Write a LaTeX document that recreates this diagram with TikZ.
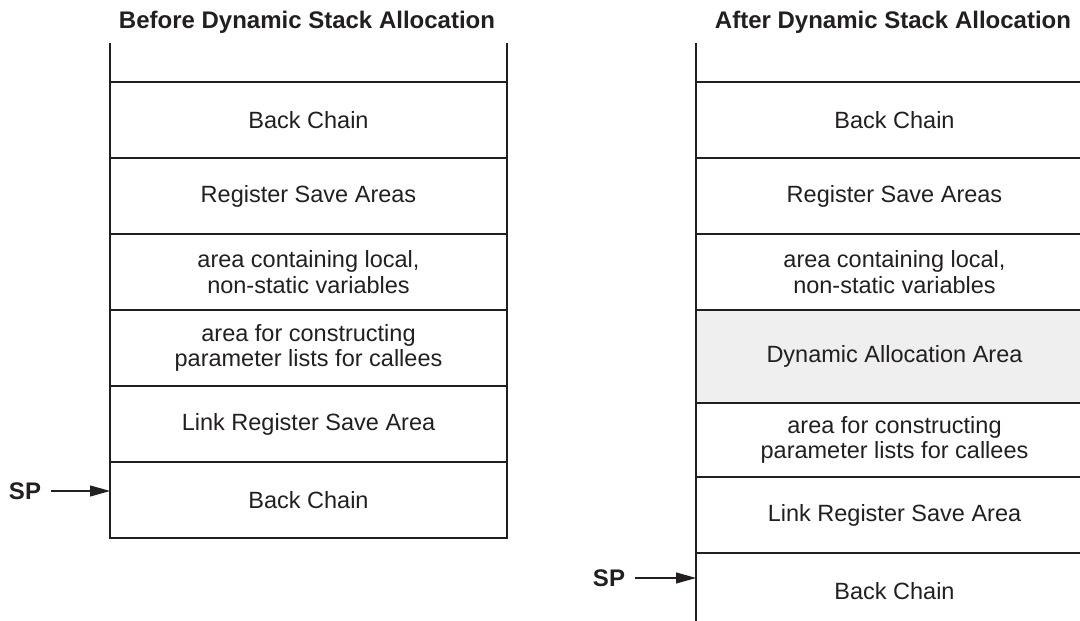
\documentclass[tikz,border=0pt]{standalone}
\usepackage{fontspec}
\setmainfont{Liberation Sans}
\usetikzlibrary{positioning, arrows.meta}

\definecolor{inkgray}{HTML}{231F20}
\definecolor{dynfill}{HTML}{EFEFEF}

\begin{document}
\begin{tikzpicture} [x=1pt, y=1pt,
            node distance = 0pt,
            every node/.style = {text=inkgray,
                font=\fontsize{23.5}{25.5}\selectfont},
            slot/.style = {draw=inkgray, line width=1.1pt,
                minimum width=397, minimum height=76,
                inner sep=0pt, outer sep=0pt, align=center},
            heading/.style = {font=\fontsize{24}{26}\selectfont\bfseries},
            sparrow/.style = {-{Triangle[length=20pt, width=11pt]},
                line width=1.1pt, draw=inkgray, shorten <=10pt}]

        \useasboundingbox (0,0) rectangle (1080,621);
        \clip (0,0) rectangle (1080,621);

        % Headings
        \node (titleL) [heading] at (307, 599) {Before Dynamic Stack Allocation};
        \node (titleR) [heading] at (893, 599) {After Dynamic Stack Allocation};

        % Stack before
        \coordinate (topleft) at (308.5, 578);
        \node (openL) [slot, draw=none, minimum height=39,
            anchor=north] at (topleft) {};
        \node (bcL) [slot, below = of openL] {Back Chain};
        \node (rsaL) [slot, below = of bcL] {Register Save Areas};
        \node (locL) [slot, below = of rsaL]
            {area containing local,\\non-static variables};
        \node (parL) [slot, below = of locL]
            {area for constructing\\parameter lists for callees};
        \node (lrL) [slot, below = of parL] {Link Register Save Area};
        \node (spbcL) [slot, below = of lrL] {Back Chain};

        \draw [draw=inkgray, line width=1.1pt]
            (openL.north west) -- (openL.south west)
            (openL.north east) -- (openL.south east);

        % Stack after
        \coordinate (topright) at (894.5, 578);
        \node (openR) [slot, draw=none, minimum height=39,
            anchor=north] at (topright) {};
        \node (bcR) [slot, below = of openR] {Back Chain};
        \node (rsaR) [slot, below = of bcR] {Register Save Areas};
        \node (locR) [slot, below = of rsaR]
            {area containing local,\\non-static variables};
        \node (dynR) [slot, fill=dynfill, minimum height=93,
            below = of locR] {Dynamic Allocation Area};
        \node (parR) [slot, minimum height=74, below = of dynR]
            {area for constructing\\parameter lists for callees};
        \node (lrR) [slot, below = of parR] {Link Register Save Area};
        \node (spbcR) [slot, below = of lrR] {Back Chain};

        \draw [draw=inkgray, line width=1.1pt]
            (openR.north west) -- (openR.south west);

        % Stack pointers
        \node (spL) [heading, inner sep=0pt] at (25, 130) {SP};
        \node (spR) [heading, inner sep=0pt] at (609, 43) {SP};

        \draw [sparrow] (spL.east) -- (spL -| spbcL.west);
        \draw [sparrow] (spR.east) -- (spR -| spbcR.west);
\end{tikzpicture}
\end{document}
